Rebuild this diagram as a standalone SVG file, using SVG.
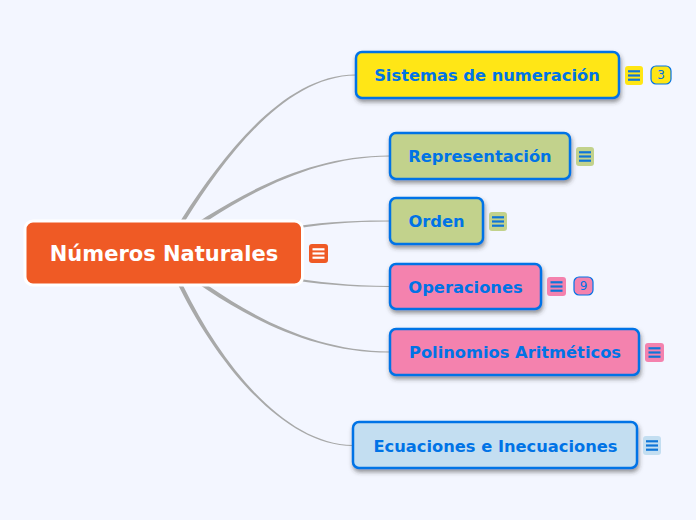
<svg xmlns="http://www.w3.org/2000/svg" width="696" height="520" viewBox="0 0 696 520">
<defs>
<filter id="sh" x="-10%" y="-20%" width="120%" height="150%"><feDropShadow dx="1" dy="3" stdDeviation="2" flood-color="#333" flood-opacity="0.5"/></filter>
<g id="bars"><rect x="-6" y="-5.300" width="12" height="2.200"/><rect x="-6" y="-1.100" width="12" height="2.200"/><rect x="-6" y="3.100" width="12" height="2.200"/></g>
</defs>
<style>
text{font-family:"DejaVu Sans",sans-serif;text-anchor:middle}
.n{stroke:#0073e6;stroke-width:2.5;filter:url(#sh)}
.l{font-size:16.300px;font-weight:700;fill:#0073e6}
.b{fill:#0f75d8}
.c{stroke:#0073e6;stroke-width:1.2}
.k{font-size:12px;fill:#0073e6}
.w{fill:#a8a9a9}
</style>
<rect width="696" height="520" fill="#f3f6ff"/>
<g id="connectors">
<path class="w" d="M174 232L182.300 218C223.700 154.200 284.600 74.200 356 74.500V75.500C285.400 75.800 226.300 155.800 185.700 220L177 234Z"/>
<path class="w" d="M179 234.300L207 216.300C259.200 183.700 320 155.200 390 155.500V156.500C320 156.800 260.800 186.300 209 219.700L181 237.700Z"/>
<path class="w" d="M280 228.700C320 222 350 220.300 390 220.500V221.500C350 221.700 320 224 280 231.300Z"/>
<path class="w" d="M280 275.700C320 282.500 350 285.800 390 286V287C350 287.200 320 284.500 280 278.300Z"/>
<path class="w" d="M181 267.300L209 286.300C260.800 321.700 320 351.200 390 351.500V352.500C320 352.800 259.200 324.300 207 289.700L179 270.700Z"/>
<path class="w" d="M176.800 273.100L183.800 287.100C221.300 364.300 285 444.700 353 445V446C285 446.300 218.700 365.700 180.200 288.900L173.200 274.900Z"/>
</g>
<g id="root">
<rect x="25" y="221" width="277.500" height="64" rx="8" fill="#ef5a25" stroke="#fff" stroke-width="3"/>
<text x="164" y="261" font-size="21px" font-weight="700" fill="#fff">Números Naturales</text>
<rect x="309" y="244" width="19" height="19" rx="3" fill="#ef5a25"/>
<use href="#bars" x="318.500" y="253.500" fill="#fff"/>
</g>
<g id="n1">
<rect class="n" x="356" y="52" width="263" height="46" rx="6" fill="#ffe614"/>
<text class="l" x="487" y="81">Sistemas de numeración</text>
<rect x="625" y="66" width="18" height="19" rx="3" fill="#ffe614"/><use href="#bars" class="b" x="634" y="75.500"/>
<rect class="c" x="651" y="66" width="20" height="18" rx="5" fill="#ffe614"/><text class="k" x="661" y="79">3</text>
</g>
<g id="n2">
<rect class="n" x="390" y="133" width="180" height="46" rx="6" fill="#c2d28c"/>
<text class="l" x="480" y="162">Representación</text>
<rect x="576" y="147" width="18" height="19" rx="3" fill="#c2d28c"/><use href="#bars" class="b" x="585" y="156.500"/>
</g>
<g id="n3">
<rect class="n" x="390" y="198" width="93" height="46" rx="6" fill="#c2d28c"/>
<text class="l" x="436.500" y="227">Orden</text>
<rect x="489" y="212" width="18" height="19" rx="3" fill="#c2d28c"/><use href="#bars" class="b" x="498" y="221.500"/>
</g>
<g id="n4">
<rect class="n" x="390" y="264" width="151" height="45" rx="6" fill="#f482ae"/>
<text class="l" x="465.500" y="293">Operaciones</text>
<rect x="547" y="277" width="19" height="19" rx="3" fill="#f482ae"/><use href="#bars" class="b" x="556.500" y="286.500"/>
<rect class="c" x="574" y="277" width="19" height="18" rx="5" fill="#f482ae"/><text class="k" x="583.500" y="290">9</text>
</g>
<g id="n5">
<rect class="n" x="390" y="329" width="249" height="46" rx="6" fill="#f482ae"/>
<text class="l" x="515" y="358">Polinomios Aritméticos</text>
<rect x="645" y="343" width="19" height="19" rx="3" fill="#f482ae"/><use href="#bars" class="b" x="654.500" y="352.500"/>
</g>
<g id="n6">
<rect class="n" x="353" y="422" width="284" height="46" rx="6" fill="#c3def1"/>
<text class="l" x="495.500" y="452">Ecuaciones e Inecuaciones</text>
<rect x="643" y="436" width="18" height="19" rx="3" fill="#c3def1"/><use href="#bars" class="b" x="652" y="445.500"/>
</g>
</svg>
